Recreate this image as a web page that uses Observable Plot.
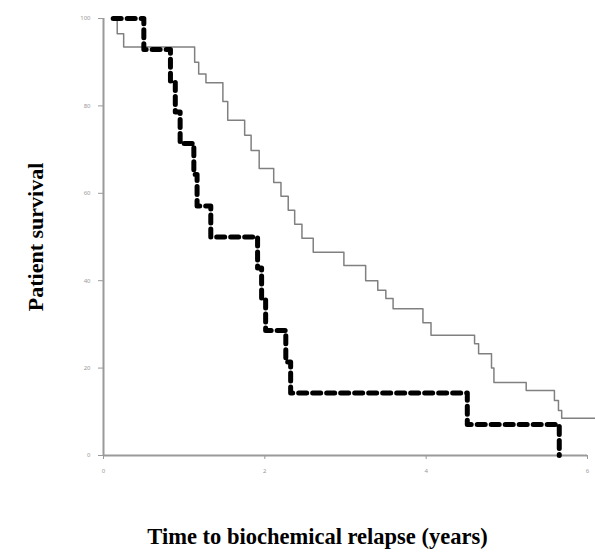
<!DOCTYPE html>
<html>
<head>
<meta charset="utf-8">
<script src="https://cdn.jsdelivr.net/npm/d3@7"></script>
<script src="https://cdn.jsdelivr.net/npm/@observablehq/plot@0.6"></script>
<style>
  html, body { margin: 0; padding: 0; background: #fff; }
  #chart svg { display: block; background: #fff; }
</style>
</head>
<body>
<div id="chart"></div>
<script>
// Solid grey curve (time in years, survival %)
const solidTime = [0.12, 0.17, 0.25, 1.13, 1.18, 1.27, 1.48, 1.54, 1.75, 1.83, 1.93, 2.11, 2.20, 2.29, 2.37, 2.46, 2.60, 2.98, 3.25, 3.40, 3.50, 3.59, 3.96, 4.06, 4.60, 4.65, 4.81, 4.84, 5.24, 5.59, 5.64, 5.68, 6.11];
const solidSurv = [100, 96.5, 93.5, 90, 87.3, 85.3, 81, 76.7, 73.3, 69.8, 65.7, 62.5, 59.3, 56.1, 52.9, 49.7, 46.5, 43.5, 40.0, 37.8, 35.9, 33.6, 30.4, 27.5, 25.6, 23.3, 20, 16.7, 14.9, 12.6, 10.3, 8.5, 8.5];

// Dashed black curve
const dashTime = [0.12, 0.50, 0.83, 0.89, 0.95, 1.12, 1.16, 1.33, 1.91, 1.96, 2.01, 2.26, 2.32, 4.51, 5.65];
const dashSurv = [100, 92.9, 85.7, 78.6, 71.4, 64.3, 57.1, 50, 42.9, 35.7, 28.6, 21.4, 14.3, 7.1, 0];

const xTicks = [0, 2, 4, 6];
const yTicks = [0, 20, 40, 60, 80, 100];
const yLabel = "Patient survival";
const xLabel = "Time to biochemical relapse (years)";

const solid = solidTime.map((t, i) => ({t, s: solidSurv[i]}));
const dashed = dashTime.map((t, i) => ({t, s: dashSurv[i]}));

const serif = "'Liberation Serif', 'DejaVu Serif', serif";

const chart = Plot.plot({
  width: 595,
  height: 557,
  marginLeft: 103,
  marginRight: 8,
  marginTop: 18,
  marginBottom: 102,
  style: {background: "#fff"},
  x: {domain: [0, 6]},
  y: {domain: [0, 100]},
  marks: [
    Plot.axisY({ticks: yTicks, tickSize: 5, tickPadding: 8, fontSize: 6, color: "#999", label: null, tickFormat: d => String(d)}),
    Plot.axisX({ticks: xTicks, tickSize: 4, tickPadding: 9, fontSize: 6, color: "#999", label: null, tickFormat: d => String(d)}),
    Plot.ruleX([0], {stroke: "#9a9a9a", strokeWidth: 2}),
    Plot.ruleY([0], {stroke: "#9a9a9a", strokeWidth: 2}),
    Plot.line(solid, {x: "t", y: "s", curve: "step-after", stroke: "#808080", strokeWidth: 1.5}),
    Plot.line(dashed, {x: "t", y: "s", curve: "step-after", stroke: "#000", strokeWidth: 5, strokeDasharray: "8,6"}),
    Plot.text([yLabel], {frameAnchor: "left", textAnchor: "middle", dx: -68, rotate: -90, fontFamily: serif, fontWeight: "bold", fontSize: 22, fill: "#000"}),
    Plot.text([xLabel], {frameAnchor: "bottom", textAnchor: "middle", dx: -28, dy: 88, fontFamily: serif, fontWeight: "bold", fontSize: 22.5, fill: "#000"})
  ]
});
document.getElementById("chart").appendChild(chart);
</script>
</body>
</html>
